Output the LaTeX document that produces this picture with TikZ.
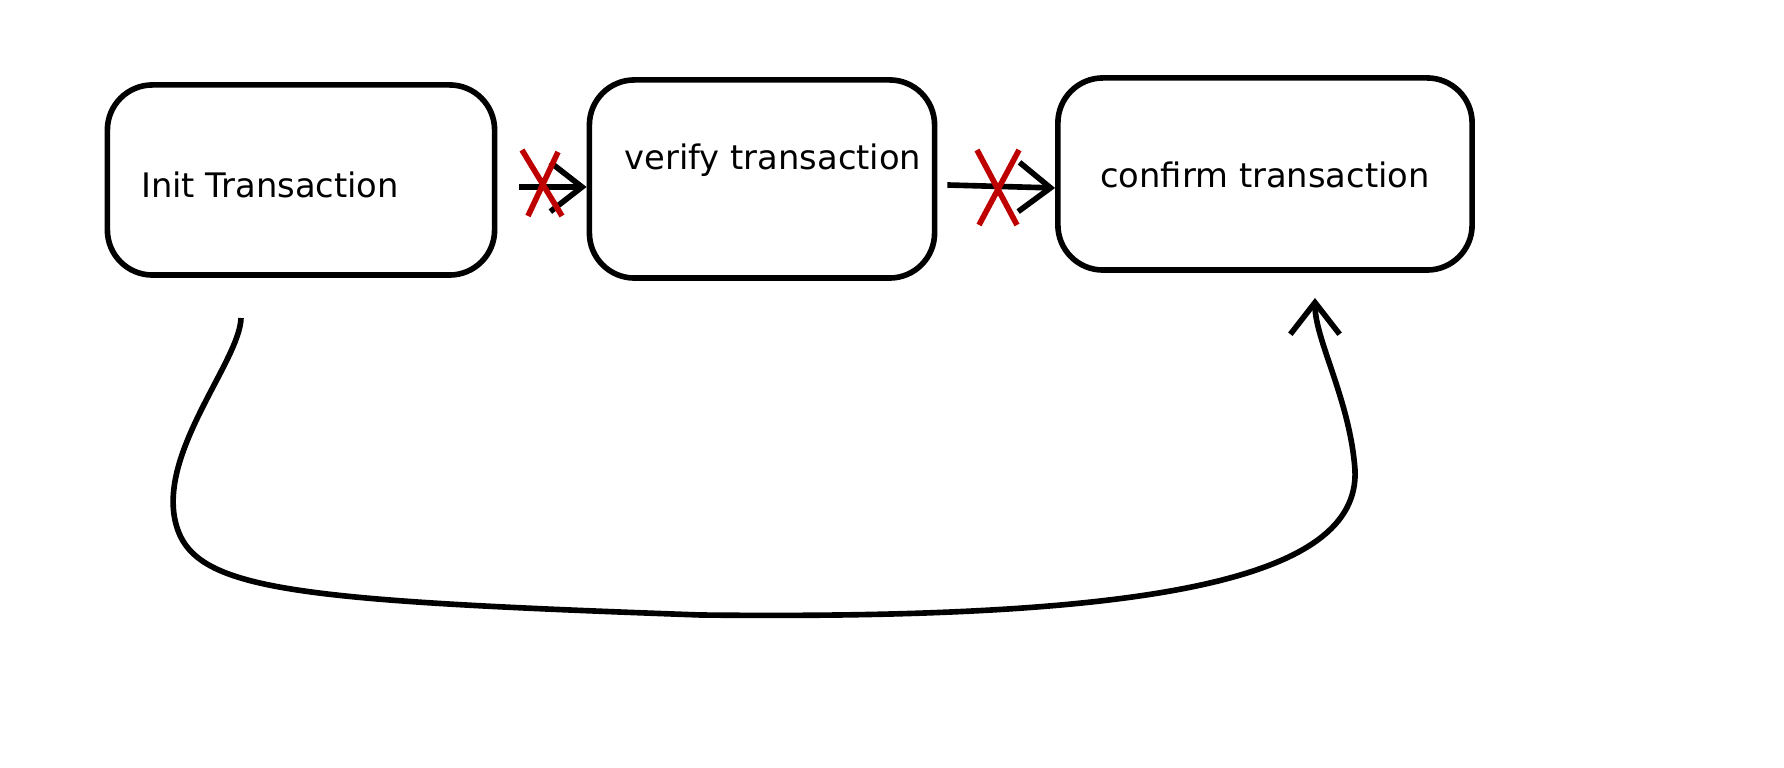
\documentclass[tikz,border=0pt]{standalone}
\usepackage{fontspec}
\setmainfont{DejaVu Sans}
\usetikzlibrary{positioning,calc,arrows.meta}

\begin{document}
\begin{tikzpicture}[
    x=0.01cm, y=-0.01cm,
    stepbox/.style={draw, line width=1.6pt, rounded corners=0.45cm, inner sep=0pt},
    label/.style={font=\fontsize{9.6}{12}\selectfont},
    flow/.style={draw, line width=1.6pt, -{Straight Barb[length=9pt,width=14pt]}},
    cross/.style={draw, line width=1.6pt, color=red!75!black}
]
\useasboundingbox (0,0) rectangle (1784,768);

% Define boxes
\node[stepbox, minimum width=3.87cm, minimum height=1.9cm] (init) at (301,180) {};
\node[stepbox, minimum width=3.45cm, minimum height=1.98cm] (verify) at (762,179) {};
\node[stepbox, minimum width=4.14cm, minimum height=1.92cm] (confirm) at (1265,174) {};

% Labels
\node[label] at (270,185) {Init Transaction};
\node[label] at (773,160) {verify transaction};
\node[label] at (1265,175) {confirm transaction};

% Arrows between boxes
\draw[flow] (init.east) ++(22,7) -- (verify.west |- 0,187);
\draw[flow] (verify.east) ++(10,6) -- (confirm.west |- 0,188);

% Red crosses
\draw[cross] (522,150) -- (562,216) (558,152) -- (528,216);
\draw[cross] (977,150) -- (1017,225) (1019,150) -- (979,225);

% Return curve
\coordinate (start) at (241,318);
\coordinate (finish) at (1315,298);
\draw[flow] (start) .. controls (240,360) and (160,450) .. (175,520)
    .. controls (190,590) and (280,600) .. (700,615)
    .. controls (1150,620) and (1360,580) .. (1355,470)
    .. controls (1350,400) and (1315,340) .. (finish);

\end{tikzpicture}
\end{document}
